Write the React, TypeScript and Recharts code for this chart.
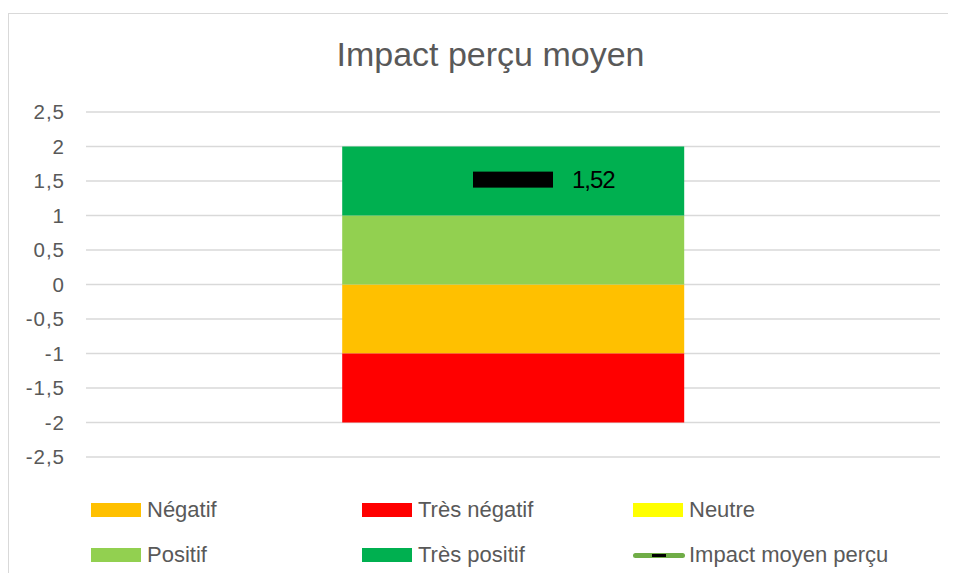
import React from "react";
import {
  ComposedChart,
  Bar,
  Line,
  XAxis,
  YAxis,
  CartesianGrid,
  LabelList,
} from "recharts";

// Excel-style "mean perceived impact" chart: colour bands + black marker for the mean
const categories = ["Impact"];
const negatif = [-1];
const tresNegatif = [-1];
const neutre = [0];
const positif = [1];
const tresPositif = [1];
const impactMoyen = [1.52];
const yTicks = [-2.5, -2, -1.5, -1, -0.5, 0, 0.5, 1, 1.5, 2, 2.5];

const FONT = "'Liberation Sans', Arial, sans-serif";
const TEXT = "#595959";

const data = categories.map((name, i) => ({
  name,
  negatif: negatif[i],
  tresNegatif: tresNegatif[i],
  neutre: neutre[i],
  positif: positif[i],
  tresPositif: tresPositif[i],
  impactMoyen: impactMoyen[i],
}));

const LEGEND = [
  { label: "Négatif", color: "#ffc000", kind: "box" },
  { label: "Très négatif", color: "#ff0000", kind: "box" },
  { label: "Neutre", color: "#ffff00", kind: "box" },
  { label: "Positif", color: "#92d050", kind: "box" },
  { label: "Très positif", color: "#00b050", kind: "box" },
  { label: "Impact moyen perçu", color: "#70ad47", kind: "line" },
];

const fmt = (v: number) => String(v).replace(".", ",");

function MeanMarker(props: any) {
  const { cx, cy } = props;
  if (cx == null || cy == null) return null;
  return <rect x={cx - 40} y={cy - 8} width={80} height={16} fill="#000" />;
}

function MeanLabel(props: any) {
  const { x, y, value } = props;
  return (
    <text
      x={x + 59}
      y={y}
      dy="0.355em"
      fontSize={24}
      letterSpacing={-1}
      fontFamily={FONT}
      fill="#000"
    >
      {fmt(value)}
    </text>
  );
}

function LegendBlock() {
  const cols = [82, 353, 624];
  const rows = [496, 541];
  return (
    <>
      {LEGEND.map((item, i) => (
        <div
          key={item.label}
          style={{
            position: "absolute",
            left: cols[i % 3],
            top: rows[Math.floor(i / 3)] - 15,
            height: 30,
            display: "flex",
            alignItems: "center",
            fontFamily: FONT,
            fontSize: 22,
            color: TEXT,
            whiteSpace: "nowrap",
          }}
        >
          {item.kind === "box" ? (
            <div style={{ width: 50, height: 14, background: item.color }} />
          ) : (
            <div
              style={{
                width: 52,
                height: 5,
                borderRadius: 3,
                background: item.color,
                position: "relative",
              }}
            >
              <div
                style={{
                  position: "absolute",
                  left: 19,
                  top: 1,
                  width: 14,
                  height: 3,
                  background: "#000",
                }}
              />
            </div>
          )}
          <span style={{ marginLeft: item.kind === "box" ? 6 : 4 }}>{item.label}</span>
        </div>
      ))}
    </>
  );
}

export default function App() {
  return (
    <div
      style={{
        position: "relative",
        marginTop: 5,
        width: 948,
        height: 560,
        boxSizing: "border-box",
        borderTop: "1px solid #d9d9d9",
        borderLeft: "1px solid #d9d9d9",
        background: "#fff",
      }}
    >
      <div
        style={{
          position: "absolute",
          left: 481.5,
          top: 23,
          transform: "translateX(-50%)",
          fontFamily: FONT,
          fontSize: 34,
          lineHeight: "34px",
          color: TEXT,
          whiteSpace: "nowrap",
        }}
      >
        Impact perçu moyen
      </div>
      <ComposedChart
        width={945}
        height={470}
        data={data}
        stackOffset="sign"
        barCategoryGap="30%"
        margin={{ top: 98, right: 14, bottom: 27, left: 17 }}
      >
        <CartesianGrid vertical={false} stroke="#d9d9d9" strokeWidth={1.5} />
        <XAxis dataKey="name" hide />
        <YAxis
          width={60}
          domain={[-2.5, 2.5]}
          ticks={yTicks}
          interval={0}
          tickFormatter={fmt}
          axisLine={false}
          tickLine={false}
          tickSize={0}
          tickMargin={21}
          tick={{ fill: TEXT, fontSize: 20.5, fontFamily: FONT, letterSpacing: 1 }}
        />
        <Bar dataKey="negatif" stackId="s" fill="#ffc000" isAnimationActive={false} />
        <Bar dataKey="tresNegatif" stackId="s" fill="#ff0000" isAnimationActive={false} />
        <Bar dataKey="neutre" stackId="s" fill="#ffff00" isAnimationActive={false} />
        <Bar dataKey="positif" stackId="s" fill="#92d050" isAnimationActive={false} />
        <Bar dataKey="tresPositif" stackId="s" fill="#00b050" isAnimationActive={false} />
        <Line
          dataKey="impactMoyen"
          stroke="#70ad47"
          strokeWidth={3}
          dot={<MeanMarker />}
          activeDot={false}
          isAnimationActive={false}
        >
          <LabelList dataKey="impactMoyen" content={<MeanLabel />} />
        </Line>
      </ComposedChart>
      <LegendBlock />
    </div>
  );
}
